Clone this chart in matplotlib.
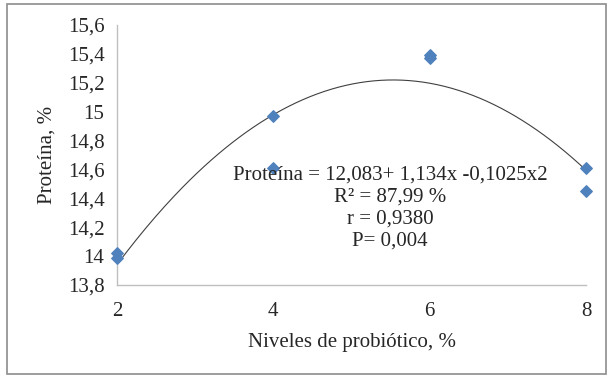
import numpy as np
import matplotlib
matplotlib.use('Agg')
import matplotlib.pyplot as plt
from matplotlib.patches import Rectangle

''' data read off the chart '''
niveles = [2, 2, 4, 4, 6, 6, 8, 8]  # niveles de probiotico [%]
proteina = [14.02, 13.99, 14.97, 14.61, 15.39, 15.37, 14.61, 14.45]  # proteina [%]
coef = [-0.1025, 1.134, 12.083]  # trend: a*x^2 + b*x + c
yticks = [13.8, 14.0, 14.2, 14.4, 14.6, 14.8, 15.0, 15.2, 15.4, 15.6]
ytick_labels = ['13,8', '14', '14,2', '14,4', '14,6', '14,8', '15', '15,2', '15,4', '15,6']
xticks = [2, 4, 6, 8]
eq_text = 'Proteína = 12,083+ 1,134x -0,1025x2\nR² = 87,99 %\nr = 0,9380\nP= 0,004'

plt.rcParams['font.family'] = ['Liberation Serif', 'DejaVu Serif']
fs = 15

fig = plt.figure(figsize=(6.08, 3.75), dpi=100)
ax = fig.add_axes([117/608, 90/375, 469/608, 260/375])

# outer frame of the chart area
fig.patches.append(Rectangle((7/608, 1/375), 599/608, 370/375, transform=fig.transFigure,
                             fill=False, edgecolor='#8c8c8c', linewidth=1.2))

xs = np.linspace(2, 8, 200)
ax.plot(xs, np.polyval(coef, xs), color='#404040', linewidth=0.8, zorder=2)
ax.scatter(niveles, proteina, marker='D', s=34, color='#4f81bd', zorder=3, clip_on=False)

ax.set_xlim(2, 8)
ax.set_ylim(13.8, 15.6)
ax.set_xticks(xticks)
ax.set_yticks(yticks)
ax.set_yticklabels(ytick_labels)
ax.tick_params(length=0, labelsize=fs, colors='#262626')
ax.tick_params(axis='y', pad=9)
ax.tick_params(axis='x', pad=12)

for s in ['top', 'right']:
    ax.spines[s].set_visible(False)
for s in ['left', 'bottom']:
    ax.spines[s].set_color('#bfbfbf')
    ax.spines[s].set_linewidth(1)

ax.set_xlabel('Niveles de probiótico, %', fontsize=fs, color='#262626', labelpad=9)
ax.set_ylabel('Proteína, %', fontsize=fs, color='#262626', labelpad=8)

ax.text(390/608, 1 - 208/375, eq_text, transform=fig.transFigure, ha='center', va='center',
        fontsize=fs, color='#262626', linespacing=1.2, multialignment='center')

fig.savefig('out.png', dpi=100)
